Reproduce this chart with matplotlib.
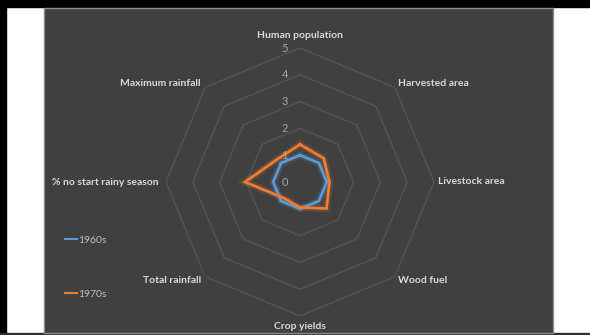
import numpy as np
import matplotlib.pyplot as plt
from matplotlib.patches import Rectangle
from matplotlib.lines import Line2D

categories = ['Human population', 'Harvested area', 'Livestock area', 'Wood fuel',
              'Crop yields', 'Total rainfall', '% no start rainy season', 'Maximum rainfall']
s1960 = [1.0, 1.0, 1.0, 1.0, 1.0, 1.0, 1.0, 1.0]
s1970 = [1.4, 1.25, 1.1, 1.4, 0.95, 0.85, 2.05, 1.2]
ticks = [0, 1, 2, 3, 4, 5]

W, H = 590, 335
fig = plt.figure(figsize=(W / 100, H / 100), dpi=100, facecolor='white')

# frame bits around the chart panel (kept behind the axes)
frame = [Rectangle((0, 1 - 7 / H), 1, 7 / H, color='black'),
         Rectangle((0, 0), 6 / W, 1, color='black'),
         Rectangle((0, 0), 1, 2 / H, color='#303030'),
         Rectangle((44 / W, 2 / H), 509 / W, 325 / H, facecolor='#404040',
                   edgecolor='#8a8a8a', lw=1)]
for p in frame:
    p.set_transform(fig.transFigure)
    p.set_zorder(-5)
    fig.patches.append(p)

# polar axes: centre at (300, 182) px, radius 134 px
cx, cy, R = 300, 182, 134
ax = fig.add_axes([(cx - R) / W, (H - cy - R) / H, 2 * R / W, 2 * R / H], polar=True)
ax.set_facecolor('none')
ax.set_theta_zero_location('N')
ax.set_theta_direction(-1)
ax.set_ylim(0, 5)
ax.grid(False)
ax.spines['polar'].set_visible(False)
ax.set_xticks([])
ax.set_yticks([])

n = len(categories)
theta = np.linspace(0, 2 * np.pi, n, endpoint=False)
closed = np.append(theta, theta[0])

# octagonal gridlines
for t in ticks[1:]:
    ax.plot(closed, [t] * (n + 1), color='#545454', lw=0.9, zorder=1)

for vals, col, lab in [(s1960, '#5B9BD5', '1960s'), (s1970, '#ED7D31', '1970s')]:
    v = np.append(vals, vals[0])
    ax.plot(closed, v, color=col, lw=5, alpha=0.18, zorder=2, solid_joinstyle='miter')
    ax.plot(closed, v, color=col, lw=2.0, zorder=3, label=lab, solid_joinstyle='miter')

for t in ticks:
    ax.annotate(str(t), xy=(0, t), xytext=(-11, 0), textcoords='offset points',
                ha='center', va='center', fontsize=8, color='#a6a6a6', family='Lato')

offsets = [(0, 6, 'center', 'bottom'), (2, 3, 'left', 'center'), (3, 0, 'left', 'center'),
           (2, -3, 'left', 'center'), (0, -4, 'center', 'top'), (-3, -3, 'right', 'center'),
           (-5, 0, 'right', 'center'), (-3, 3, 'right', 'center')]
for th, name, (dx, dy, ha, va) in zip(theta, categories, offsets):
    ax.annotate(name, xy=(th, 5), xytext=(dx, dy), textcoords='offset points',
                ha=ha, va=va, fontsize=7.5, fontweight='bold', color='#d9d9d9',
                family='Lato', annotation_clip=False)

handles = [Line2D([], [], color='#5B9BD5', lw=1.5), Line2D([], [], color='#ED7D31', lw=1.5)]
leg = fig.legend(handles, ['1960s', '1970s'], loc='upper left',
                 bbox_to_anchor=(56 / W, 1 - 226 / H), frameon=False,
                 handlelength=1.1, handletextpad=0.1, labelspacing=4.3,
                 prop={'family': 'Lato', 'size': 7.5})
for txt in leg.get_texts():
    txt.set_color('#bfbfbf')

fig.savefig('out.png', dpi=100, facecolor=fig.get_facecolor())
